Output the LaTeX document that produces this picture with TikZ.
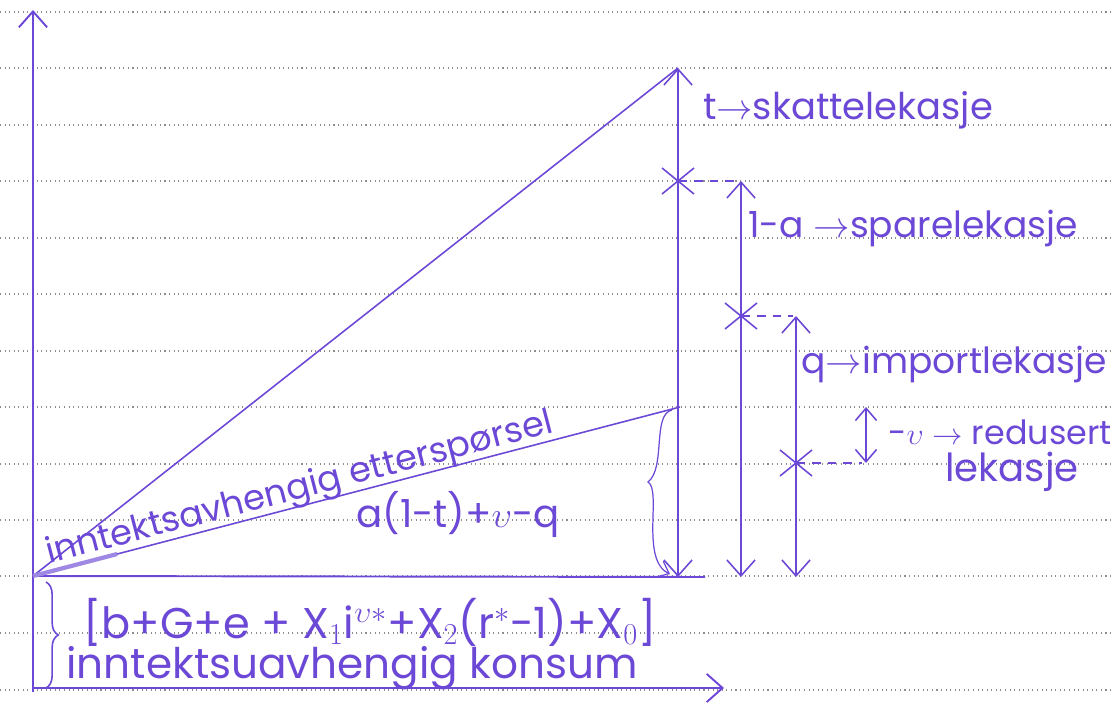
\documentclass[tikz,border=0pt]{standalone}
\usepackage{fontspec}
\setmainfont{Poppins}
\usetikzlibrary{arrows.meta,decorations.pathreplacing,calc}
\definecolor{ink}{RGB}{108,72,214}
\definecolor{rulecol}{RGB}{140,140,140}
\newcommand{\fs}[1]{\fontsize{#1}{#1}\selectfont}
\tikzset{
  ink line/.style={draw=ink,line width=0.9pt},
  axis/.style={draw=ink,line width=1.1pt},
  vee/.style={-{Straight Barb[length=9pt,width=16pt]}},
  vees/.style={{Straight Barb[length=9pt,width=16pt]}-{Straight Barb[length=9pt,width=16pt]}},
  small vees/.style={{Straight Barb[length=7pt,width=12pt]}-{Straight Barb[length=7pt,width=12pt]}},
  lbl/.style={text=ink,font=\fs{20},inner sep=0pt},
  cross/.style={draw=ink,line width=0.9pt},
  dash line/.style={draw=ink,line width=0.9pt,dash pattern=on 5pt off 4pt},
  ruled/.style={draw=rulecol,line width=0.6pt,dotted}
}
\begin{document}
\begin{tikzpicture}[x=0.02cm,y=-0.02cm]
\useasboundingbox (0,0) rectangle (1118,705);
\foreach \yy in {12,68,125,181,238,294,351,407,464,520,576,633,690}
  \draw[ruled] (0,\yy) -- (1112,\yy);
% points
\coordinate (O) at (33,576);
\coordinate (Ytop) at (33,10);
\coordinate (Ybot) at (33,692);
\coordinate (Xs) at (33,688);
\coordinate (Xe) at (724,688);
\coordinate (Be) at (705,577);
\coordinate (T) at (678,68);
\coordinate (C) at (680,407);
\coordinate (X1) at (678,181);
\coordinate (X2) at (741,316);
\coordinate (X3) at (796,463);
\coordinate (A1b) at (678,577);
\coordinate (A2t) at (741,181);
\coordinate (A2b) at (741,577);
\coordinate (A3t) at (796,316);
\coordinate (A3b) at (796,577);
\coordinate (S1) at (866,407);
\coordinate (S2) at (866,463);
\coordinate (D1) at (738,181);
\coordinate (D2) at (793,316);
\coordinate (D3) at (862,463);
\coordinate (Bt) at (672,410);
\coordinate (Bm) at (648,482);
\coordinate (Bb) at (670,574);
% axes
\draw[axis,vee] (Ybot) -- (Ytop);
\draw[axis,vee] (Xs) -- (Xe);
\draw[axis] (O) -- (Be);
% lines from origin
\draw[ink line] (O) -- (T);
\draw[ink line] (O) -- (C);
\draw[ink line,line width=2.4pt,draw=ink!65] (O) -- ($(O)!0.13!(C)$);
% vertical arrows
\draw[ink line,vees] (A1b) -- (T);
\draw[ink line,vees] (A2b) -- (A2t);
\draw[ink line,vees] (A3b) -- (A3t);
\draw[ink line,small vees] (S2) -- (S1);
% crosses
\foreach \p in {X1,X2,X3}{
  \draw[cross] ($(\p)+(-16,-13)$) -- ($(\p)+(16,13)$);
  \draw[cross] ($(\p)+(-16,13)$) -- ($(\p)+(16,-13)$);
}
\draw[dash line] (X1) -- (D1);
\draw[dash line] (X2) -- (D2);
\draw[dash line] (X3) -- (D3);
% braces
\draw[ink line,line width=0.7pt,-{Straight Barb[length=6pt,width=10pt]}]
  (Bt) .. controls (652,414) and (666,468) .. (Bm)
       .. controls (662,490) and (640,560) .. (Bb);
\draw[ink line,decorate,decoration={brace,amplitude=7pt,mirror}] (46,688) -- (46,582);
% labels
\node[lbl,font=\fs{21}] (lt) at (848,110) {t$\rightarrow$skattelekasje};
\node[lbl,font=\fs{20.5}] (la) at (913,228) {1-a $\rightarrow$sparelekasje};
\node[lbl,font=\fs{20.5}] (lq) at (954,364) {q$\rightarrow$importlekasje};
\node[lbl,font=\fs{19}] (lv) at (1000,432) {-$\upsilon$ $\rightarrow$ redusert};
\node[lbl,font=\fs{22}] (lk) at (1012,472) {lekasje};
\node[lbl,rotate=14.6,anchor=base] (le) at (302,498) {inntektsavhengig etterspørsel};
\node[lbl,font=\fs{22}] (lf) at (458,514) {a(1-t)+$\upsilon$-q};
\node[lbl,font=\fs{24.5}] (lb) at (370,622) {[b+G+e + X$_1$i$^{\upsilon*}$+X$_2$(r$^*$-1)+X$_0$]};
\node[lbl,font=\fs{24}] (lc) at (352,668) {inntektsuavhengig konsum};
\end{tikzpicture}
\end{document}
